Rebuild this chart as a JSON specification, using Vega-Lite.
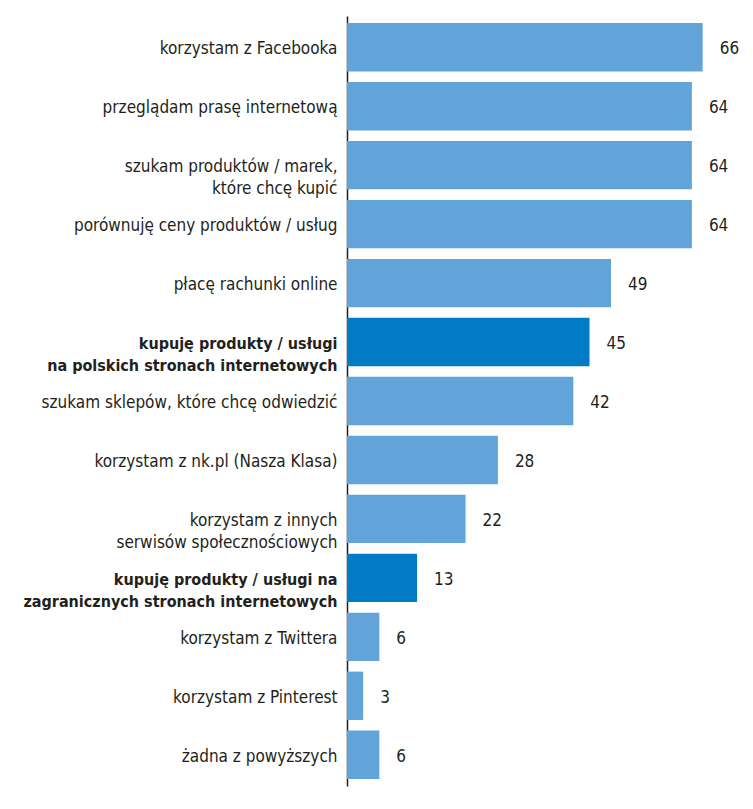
{
  "$schema": "https://vega.github.io/schema/vega-lite/v6.json",
  "autosize": "none",
  "width": 388,
  "height": 770,
  "padding": {"left": 347, "top": 16, "right": 18, "bottom": 23},
  "background": "white",
  "config": {"view": {"stroke": null}, "font": "DejaVu Sans Condensed, Roboto, sans-serif"},
  "data": {"values": [
    {"label": "korzystam z Facebooka", "value": 66, "hl": false},
    {"label": "przeglądam prasę internetową", "value": 64, "hl": false},
    {"label": "szukam produktów / marek,|które chcę kupić", "value": 64, "hl": false},
    {"label": "porównuję ceny produktów / usług", "value": 64, "hl": false},
    {"label": "płacę rachunki online", "value": 49, "hl": false},
    {"label": "kupuję produkty / usługi|na polskich stronach internetowych", "value": 45, "hl": true},
    {"label": "szukam sklepów, które chcę odwiedzić", "value": 42, "hl": false},
    {"label": "korzystam z nk.pl (Nasza Klasa)", "value": 28, "hl": false},
    {"label": "korzystam z innych|serwisów społecznościowych", "value": 22, "hl": false},
    {"label": "kupuję produkty / usługi na|zagranicznych stronach internetowych", "value": 13, "hl": true},
    {"label": "korzystam z Twittera", "value": 6, "hl": false},
    {"label": "korzystam z Pinterest", "value": 3, "hl": false},
    {"label": "żadna z powyższych", "value": 6, "hl": false}
  ]},
  "encoding": {
    "y": {
      "field": "label", "type": "nominal", "sort": null,
      "scale": {"paddingInner": 0.18, "paddingOuter": 0.12},
      "axis": {
        "title": null, "ticks": false, "domainColor": "#231f20", "domainWidth": 1.5,
        "labelPadding": 10, "labelColor": "#231f20", "labelOffset": 2,
        "labelFontSize": {"condition": {"test": "indexof(datum.label, 'kupuję') == 0", "value": 16}, "value": 17},
        "labelLimit": 400, "labelLineHeight": 22,
        "labelExpr": "split(datum.label, '|')",
        "labelFontWeight": {"condition": {"test": "indexof(datum.label, 'kupuję') == 0", "value": "bold"}, "value": "normal"}
      }
    },
    "x": {"field": "value", "type": "quantitative", "scale": {"domain": [0, 72]}, "axis": null}
  },
  "layer": [
    {
      "mark": {"type": "bar"},
      "encoding": {
        "color": {"field": "hl", "type": "nominal", "scale": {"domain": [false, true], "range": ["#62a3d9", "#007bc4"]}, "legend": null}
      }
    },
    {
      "mark": {"type": "text", "align": "left", "baseline": "middle", "dx": 17, "dy": 2, "fontSize": 17, "color": "#231f20"},
      "encoding": {
        "text": {"field": "value", "type": "quantitative"},
        "fontWeight": {"condition": {"test": "datum.hl", "value": "bold"}, "value": "normal"}
      }
    }
  ]
}
